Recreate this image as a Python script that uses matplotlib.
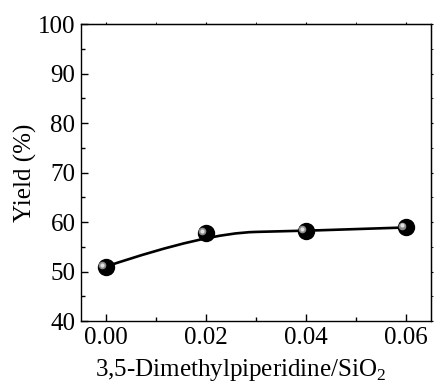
import numpy as np
import matplotlib
matplotlib.use("Agg")
import matplotlib.pyplot as plt
from matplotlib.ticker import MultipleLocator
from matplotlib.path import Path
from matplotlib.patches import PathPatch

plt.rcParams['font.family'] = ['Liberation Serif']
plt.rcParams['mathtext.fontset'] = 'custom'
plt.rcParams['mathtext.rm'] = 'Liberation Serif'

ratio = [0.00, 0.02, 0.04, 0.06]
yield_pct = [51.0, 57.8, 58.2, 58.9]
xticks = [0.00, 0.02, 0.04, 0.06]
yticks = [40, 50, 60, 70, 80, 90, 100]

fig = plt.figure(figsize=(4.34, 3.89), dpi=100)
ax = fig.add_axes([0.1866, 0.1748, 0.8064, 0.7634])

# Quadratic B-spline using the data as control points (drawn with Path CURVE3 segments)
pts = list(zip(ratio, yield_pct))
verts = [pts[0]]
codes = [Path.MOVETO]
for i in range(1, len(pts) - 1):
    ctrl = pts[i]
    if i < len(pts) - 2:
        end = ((pts[i][0] + pts[i + 1][0]) / 2, (pts[i][1] + pts[i + 1][1]) / 2)
    else:
        end = pts[i + 1]
    verts += [ctrl, end]
    codes += [Path.CURVE3, Path.CURVE3]
ax.add_patch(PathPatch(Path(verts, codes), fill=False, edgecolor='black', lw=1.9, zorder=2))

x = np.array(ratio)
y = np.array(yield_pct)
ax.plot(x, y, 'o', ms=11.5, color='black', mec='black', zorder=3)
ax.plot(x - 0.0007, y + 0.35, 'o', ms=5.5, color='#8a8a8a', mec='none', zorder=4)
ax.plot(x - 0.0008, y + 0.4, 'o', ms=3, color='#e0e0e0', mec='none', zorder=5)

ax.set_xlim(-0.005, 0.065)
ax.set_ylim(40, 100)
ax.set_xticks(xticks)
ax.set_xticklabels([f"{v:.2f}" for v in xticks])
ax.set_yticks(yticks)
ax.xaxis.set_minor_locator(MultipleLocator(0.01))
ax.yaxis.set_minor_locator(MultipleLocator(5))
ax.tick_params(which='both', direction='in', labelsize=18, width=1)
ax.tick_params(which='major', length=5, pad=4)
ax.tick_params(which='minor', length=3)

# tiny outward ticks on top and right
sec_top = ax.secondary_xaxis('top')
sec_top.set_xticks(xticks)
sec_top.xaxis.set_minor_locator(MultipleLocator(0.01))
sec_top.tick_params(which='both', direction='out', length=1.5, labeltop=False)
sec_right = ax.secondary_yaxis('right')
sec_right.set_yticks(yticks)
sec_right.yaxis.set_minor_locator(MultipleLocator(5))
sec_right.tick_params(which='both', direction='out', length=1.5, labelright=False)

for s in ax.spines.values():
    s.set_linewidth(1.0)
ax.set_xlabel('3,5-Dimethylpiperidine/SiO$_2$', fontsize=18, labelpad=6)
ax.xaxis.label.set_x(0.457)
ax.set_ylabel('Yield (%)', fontsize=18, labelpad=1)
fig.savefig('out.png', dpi=100)
